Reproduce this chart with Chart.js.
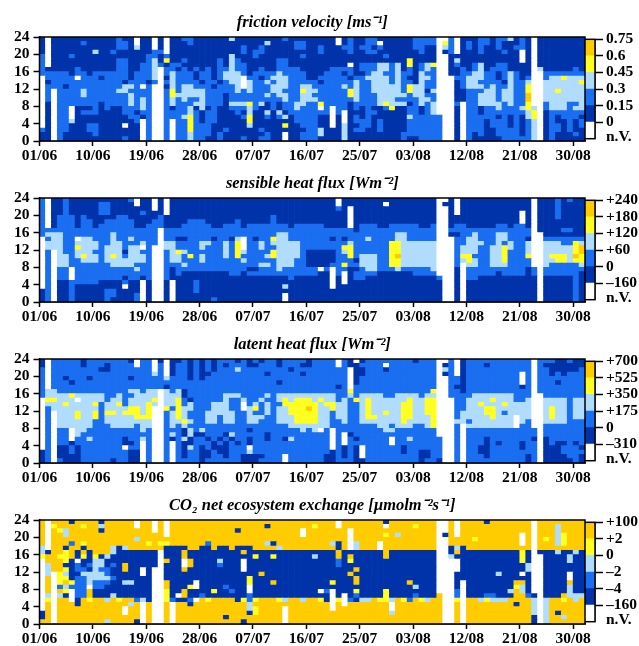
<!DOCTYPE html>
<html>
<head>
<meta charset="utf-8">
<script src="https://cdn.jsdelivr.net/npm/chart.js@4/dist/chart.umd.min.js"></script>
<style>
body { margin: 0; background: #fff; overflow: hidden; }
#page { position: relative; width: 639px; height: 646px; overflow: hidden; }
canvas { position: absolute; }
</style>
</head>
<body>
<div id="page"></div>
<script>
// class of each hourly cell, one string per hour from 23 down to 0, one digit per day
// 0 = n.V., 1..5 = colour classes, lowest to highest
const frictionRows = [
'1011111111 1112110110 1011221111 1131111111 1211111111 0121122111 1112222002 0111221223 1210111111 11',
'1011111211 1112210110 1011121111 1111111131 1112211111 0121122011 1112222042 0121221211 1210111111 11',
'1011111111 1112213110 1011111111 1111211211 1112211211 1221221211 1112211032 0121211211 2210111111 11',
'1011111113 1121111112 2011111111 1111212211 1111111211 1121122111 1111211012 0111211121 1010111111 11',
'2011121111 1111111122 1211111111 1131112111 1111211111 1111111121 1111111001 1111111111 1010111111 11',
'2011111111 1112211123 1411211111 2132111111 2211111111 1111111111 1141111001 3111111111 1010111111 11',
'2011111111 1112211223 2122111111 2132211111 2211111111 1101222332 3141234001 2112311221 1110111111 11',
'2111112111 1112211223 0221212121 2232211211 2222111112 2221222332 3121232001 1212312221 1110311111 21',
'2222212212 2222212223 0232221221 2333212222 3222211122 2121123322 3221322001 1223322123 2110022222 22',
'0222220222 1222212223 0132221221 2333022123 3322211222 2212233332 3211332000 2233322123 2120023343 33',
'0122222222 2222122212 0232222122 1233032232 3322222122 2223223332 3221322000 1233222213 2230033333 34',
'0222122222 2222332020 0132332221 2223032223 3322332222 2323223333 3243322000 1233323223 2240033333 33',
'0202222322 2223322220 0242333322 2223232223 3222433222 2243223333 3243313000 1122233233 2240033433 33',
'0202222322 2222232220 0243333322 2122222232 3322332222 2243222333 3323322000 1122333233 2250033333 33',
'0202222222 2222232320 0232322322 2122222222 2322333222 2223222333 2222332000 1122333233 2250033333 33',
'0102222222 1222232320 0232223322 2133342312 1223322422 2212222343 3312323000 2022333323 2240023332 23',
'0102201112 1211222320 0212231312 1122232112 1223222020 2212121124 1122123000 1022122322 2343023332 33',
'0102201222 1111221220 0222232122 1112131131 3122222220 2011122111 1122123000 1022122222 2234012222 22',
'0102201111 1111122120 0222342122 1111241121 2312222110 1012121111 1132222200 1022222121 2134012122 21',
'0102231111 1111112020 0202242122 1111141111 1112222110 1012221211 1122222200 1022212221 2123012112 12',
'0102211122 1111011020 0202242221 1111131111 1411222110 1311221211 1122222200 1022212221 2123012212 12',
'2102211122 1111111020 0202242221 1211111211 1111122311 1312211211 1122222200 1022211222 2123012212 11',
'1102111112 1111111020 0202232221 2111111121 1011222311 1311111111 1222222200 1021211222 2123012111 21',
'1102111111 1111211020 0202232211 2111211221 1011222111 1311111111 1211222200 1021111122 2223012111 11'
];

const sensibleRows = [
'2011211111 1111120110 1011111111 1111111111 1111111111 0111111111 1111111001 0111111111 1110111212 11',
'2011211111 2211110110 1011111111 1111111111 1111111111 0111111101 1111111011 0111111111 1110111211 11',
'2011211111 2211111110 1011111111 1111111111 1111111111 2101111111 1111111001 0111111111 1110111211 11',
'2011211111 2211111211 1011111111 1111111111 1111111111 1101111111 1111111001 0111111111 1010111211 11',
'2012221211 1112211111 2111111111 1111111112 1111111111 1101111111 1111111001 1111111111 1010111211 11',
'2012221221 1222221112 2111122211 1112111112 1111111111 1101111111 1111111001 1111111111 1010111111 11',
'2012221221 2222221122 2111222221 1222122222 2212222211 1101222112 2222112001 2211111221 2210111111 11',
'2222222222 2222222222 0222222222 2222222222 2222222222 2221222222 2222222002 2222222222 2220111122 11',
'2333222222 2232222222 0222222222 2222222222 3322222222 2222222222 3322222001 1223222332 2220011111 11',
'0233220332 2232232222 0221122221 2213021224 3322222221 2122232222 3322222000 2233222332 2210022222 22',
'0333223333 2233222322 0332222332 2324022323 3333222222 2232222224 4333333000 2233322323 2230033322 43',
'0333224333 2333233020 0332222322 2324022322 3333222222 2442222224 4333333000 2333223343 2230033333 45',
'0203223332 2333133220 0234322222 2324322224 3333211111 2342222224 4333333000 2333223342 2230033333 45',
'0203323433 2343233320 0233242322 2324222234 3333211111 2242333224 5333333000 2442223342 2240034443 54',
'0203322333 2333333320 0233222322 2222322222 3332211111 2221333224 4333333000 2343223342 2220033443 44',
'0203322222 2233332220 0222322222 2222222332 3332211112 2422333224 4333333000 2033223332 2220032222 23',
'0202202222 2222223220 0212222222 2222211222 3222222020 2211233222 3222223000 1022222222 2212022222 22',
'0202202222 2222222220 0212111111 1122122222 2222222110 2012222111 1112222000 1022222122 2212022222 21',
'0202202222 2222122120 0211111111 1111111111 1121111110 1012211111 1111111200 1022111111 1111011111 21',
'0201122222 1111211010 0101112111 1111111111 1111111110 1011111111 1111111100 1011111111 1111011111 21',
'0201121111 1111011010 0101112111 1111111111 1311111110 1111111111 1111111100 1011111111 1111011111 21',
'1201121111 1221111010 0101112111 1111111111 1111111111 1111111111 1111111100 1011111111 1111011111 21',
'1201121111 1221112010 0101111111 1111111111 1011111111 1111111111 1111111100 1011111111 1111011111 21',
'1201121111 1211112010 0101111112 1111111111 1011111111 1111111111 1111111100 1011111111 1111011111 21'
];

const latentRows = [
'1022222122 2222210220 1011212121 2221212122 1222212222 0210122222 2221222002 0122222222 2220222112 11',
'1022222122 2122220220 2012212121 2122211222 1222112222 0211222202 2222222012 0122212222 2220211111 11',
'2022222222 1122222220 2012212121 2223222222 2212222222 2201122212 2222222032 0122222222 2220221111 12',
'2022222222 2222222223 2012212112 2222222212 2222122222 2201122222 2222222012 0122222222 2020221212 22',
'2022122212 2222212222 2322212122 2222222222 2222222222 2201222222 2222222002 2122222222 2020222222 22',
'2022212222 2222222222 2222222222 2222222222 1222222222 2201222222 2222222002 2122222222 2020222122 22',
'2022222222 2222222222 2122222222 2222222222 2222222222 1202222222 2222222002 1122222222 2120222222 22',
'2332222222 2222233233 0323122222 2222222222 2222222222 2242222222 2222224002 2122222222 2220222222 22',
'2333343333 3223223333 0333122222 2333222232 3333333333 2232333322 3333233002 2223333333 2220022222 22',
'0443330333 3233233334 0334212222 2322322322 3434443433 2324343333 3343344000 2233334333 2230033332 33',
'0333433334 2334233343 0334232223 3322023232 2444444344 3322343333 3443344000 2233433343 3330033332 33',
'0233333333 2333344340 0424332223 3322034232 3344454334 3322343333 3443344000 2233344333 3330034332 33',
'0203334334 2443444340 0234322233 3332232232 3344444332 3322343343 3443344000 2333344323 3330034332 33',
'0203334334 2333334440 0234322233 2332233322 3334444332 3322344333 3443334000 2333334333 0330034332 33',
'0203333332 2333333330 0233432233 2332233222 3334444332 2322333333 3433334000 3323333333 0320033332 22',
'0203333332 2233332330 0232322222 2222222222 2233333332 2222222332 3332234000 2033333333 0220022222 22',
'0202203322 2222222320 0222132322 2222212222 2222323020 2222222233 2222222000 2022222222 2222022222 22',
'0202203222 2222222220 0232131122 2132222212 2222222220 2012222222 2222222000 2022222222 2222022222 22',
'0202202232 2222122320 0212312212 1212212212 2132222220 2021222220 2232222200 2022212222 2221012222 22',
'0202212222 2222112020 0202112221 2121212222 2222222220 2022222220 2222222200 2022212122 2122012112 12',
'0201121222 2222022020 0202132121 1122202222 2222222220 2121022222 2122222200 2022112222 2122011122 21',
'1201121222 2222211020 0202122112 1122232222 2222222221 2121022222 2122112200 2022112222 2222011122 22',
'1201111222 2222211020 0202122112 2122111122 2022222211 2121022222 2222112200 2022212222 2212011112 21',
'1202111222 2212211020 0202222122 2222111222 2022222211 2221122222 2222122100 2022222222 2212011111 21'
];

const co2Rows = [
'5055515555 1555550550 5055555555 5555555555 5555555555 0555555515 5555555005 0555515555 5550555555 55',
'5045555455 3555550550 5055555555 5555555515 5555554555 0555555505 5554555005 0555555555 5550555355 55',
'5054355555 1555555550 5055555555 5551555555 5555055555 5505555555 5555555005 0555555555 5550555355 55',
'5055355555 5555555555 5055555555 5555555555 5555055555 5505555545 3555555015 0555555555 5050555345 55',
'5055555555 5555553555 5555555555 5555555555 5555555555 5505555555 5555555005 5554555555 5050545345 55',
'5055525455 5555555545 4455555525 5555555531 5555555553 1503555055 5555555005 5555555555 5050555345 55',
'3055155155 5531355555 5111155115 1151115555 3555555555 1503555055 5555555001 3155555555 5550555555 55',
'3155451515 5531111111 0111511111 1111511111 1111111111 5111111151 1111111001 5111111111 1410111311 31',
'4554451414 1311111111 0111511111 1111114114 1111113111 5151111151 1111111003 1111111111 1410011113 11',
'0555410113 3111111111 0511051111 3111011111 1111111111 2141111111 1111111000 0111111111 1410011113 11',
'0355112123 3121511111 0111051111 2111011111 1111111111 2111111111 1111111000 0111111111 1130011111 11',
'0355412213 2211511010 0111511111 1111011111 1111111111 1115111111 1111111000 0111111111 1130011111 11',
'0304311333 3211111010 0111111111 1111111511 1111111111 1151111111 1111111000 1111111311 1010011110 11',
'0504412233 3321111110 0111111111 1111141111 1111111111 1115111111 1111111000 1111111111 1110011110 11',
'0504542232 2211331110 0511110111 1111141115 1111111114 1115111111 1151111000 1011111111 5510011115 11',
'0502322202 2111111110 0511140111 1211101111 1111111111 1111111111 1113111000 1011111111 4310011113 11',
'0505402251 1111111110 0411511114 1121101111 1111111020 1114111141 1111111000 2011111113 5310011113 11',
'0303102251 1131111110 0410511211 1111121111 1111111110 1012111141 1112111500 2011122111 5521011153 33',
'0405501545 5354552310 0421120545 5551424555 4355355410 4021335443 5425435500 4055343335 5553035545 35',
'0505551555 5555535050 0505515555 5555535555 5555555550 5055555550 5555555500 5055555555 1553035555 55',
'0505555555 5555055050 0505555555 5555534555 5055555550 5555555550 5555555500 5055555555 5553035555 55',
'1505555555 5555055050 0505555555 5555514555 5055555555 5555555553 5555555500 5055555555 5553035155 55',
'1505555555 5555555050 0505555555 5155555555 5055555555 5555555555 5555555500 5055555555 5551035535 55',
'5505555555 5355551050 0505555555 5555155555 5055555555 5555555555 5555555500 5055555555 5551035555 55'
];

const dayTicks = ['01/06', '10/06', '19/06', '28/06', '07/07', '16/07', '25/07', '03/08', '12/08', '21/08', '30/08'];

const frictionLegend = ['n.V.', '0', '0.15', '0.3', '0.45', '0.6', '0.75'];
const sensibleLegend = ['n.V.', '\u2013160', '0', '+60', '+120', '+180', '+240'];
const latentLegend = ['n.V.', '\u2013310', '0', '+175', '+350', '+525', '+700'];
const co2Legend = ['n.V.', '\u2013160', '\u20134', '\u20132', '0', '+2', '+100'];

const classColours = ['#ffffff', '#0033aa', '#1a6ef0', '#b0dcff', '#ffff22', '#ffcc00'];
const axisFont = { family: '"Liberation Serif"', size: 15.5, weight: 'bold' };
const titleFont = { family: '"Liberation Serif"', size: 16.5, weight: 'bold', style: 'italic', lineHeight: 1 };

const panels = [
    { top: 37, title: 'friction velocity [ms\u207B\u00B9]', rows: frictionRows, legend: frictionLegend },
    { top: 198, title: 'sensible heat flux [Wm\u207B\u00B2]', rows: sensibleRows, legend: sensibleLegend },
    { top: 359, title: 'latent heat flux [Wm\u207B\u00B2]', rows: latentRows, legend: latentLegend },
    { top: 520, title: 'CO\u2082 net ecosystem exchange [\u00B5molm\u207B\u00B2s\u207B\u00B9]', rows: co2Rows, legend: co2Legend }
];

const framePlugin = {
    id: 'frame',
    afterDraw(chart) {
        const a = chart.chartArea, ctx = chart.ctx;
        ctx.save();
        ctx.strokeStyle = '#000';
        ctx.lineWidth = 1.5;
        ctx.strokeRect(a.left, a.top, a.right - a.left, a.bottom - a.top);
        ctx.restore();
    }
};

function addCanvas(left, top, width, height) {
    const c = document.createElement('canvas');
    c.width = width;
    c.height = height;
    c.style.left = left + 'px';
    c.style.top = top + 'px';
    c.style.width = width + 'px';
    c.style.height = height + 'px';
    document.getElementById('page').appendChild(c);
    return c.getContext('2d');
}

function heatDatasets(rows) {
    // stacked from the bottom, so hour 0 has to be first
    return rows.slice().reverse().map(function (row) {
        const cells = row.replace(/ /g, '').split('').map(Number);
        return {
            data: cells.map((c, day) => ({ x: day + 0.5, y: 1 })),
            backgroundColor: cells.map(c => classColours[c]),
            barPercentage: 1,
            categoryPercentage: 1
        };
    });
}

panels.forEach(function (p) {
    new Chart(addCanvas(0, p.top - 28, 639, 154), {
        type: 'bar',
        data: { datasets: heatDatasets(p.rows) },
        plugins: [framePlugin],
        options: {
            responsive: false,
            animation: false,
            layout: { padding: { right: 54 } },
            plugins: {
                legend: { display: false },
                tooltip: { enabled: false },
                title: {
                    display: true,
                    text: p.title,
                    color: '#000',
                    font: titleFont,
                    fullSize: false,
                    padding: { top: 5.5, bottom: 6 }
                }
            },
            scales: {
                x: {
                    type: 'linear',
                    stacked: true,
                    offset: false,
                    min: 0,
                    max: 92,
                    afterFit: s => { s.height = 22; },
                    grid: { offset: false, drawOnChartArea: false, tickLength: 5, tickColor: '#000', tickWidth: 1.5 },
                    border: { color: '#000', width: 1.5 },
                    ticks: {
                        stepSize: 9,
                        includeBounds: false,
                        autoSkip: false,
                        maxRotation: 0,
                        padding: 1,
                        color: '#000',
                        font: axisFont,
                        callback: v => dayTicks[v / 9]
                    }
                },
                y: {
                    stacked: true,
                    min: 0,
                    max: 24,
                    afterFit: s => { s.width = 39.5; },
                    grid: { drawOnChartArea: false, tickLength: 6, tickColor: '#000', tickWidth: 1.5 },
                    border: { color: '#000', width: 1.5 },
                    ticks: { stepSize: 4, autoSkip: false, padding: 4, color: '#000', font: axisFont }
                }
            }
        }
    });

    // colour key, bottom segment is n.V.
    new Chart(addCanvas(585, p.top - 10, 54, 124), {
        type: 'bar',
        data: {
            labels: ['key'],
            datasets: classColours.map(c => ({
                data: [1],
                backgroundColor: c,
                barPercentage: 1,
                categoryPercentage: 1
            }))
        },
        plugins: [framePlugin],
        options: {
            responsive: false,
            animation: false,
            layout: { padding: { top: 10, bottom: 10 } },
            plugins: { legend: { display: false }, tooltip: { enabled: false } },
            scales: {
                x: { stacked: true, display: false },
                y: {
                    stacked: true,
                    position: 'right',
                    min: 0,
                    max: 6,
                    afterFit: s => { s.width = 44; },
                    afterBuildTicks: s => { s.ticks = [0.12, 1, 2, 3, 4, 5, 6].map(v => ({ value: v })); },
                    grid: {
                        drawOnChartArea: false,
                        tickLength: 8,
                        tickWidth: 1.5,
                        tickColor: ctx => (ctx.tick && ctx.tick.value < 1 ? 'rgba(0,0,0,0)' : '#000')
                    },
                    border: { color: '#000', width: 1.5 },
                    ticks: {
                        autoSkip: false,
                        padding: 3,
                        color: '#000',
                        font: axisFont,
                        callback: v => p.legend[v < 1 ? 0 : v]
                    }
                }
            }
        }
    });
});
</script>
</body>
</html>
